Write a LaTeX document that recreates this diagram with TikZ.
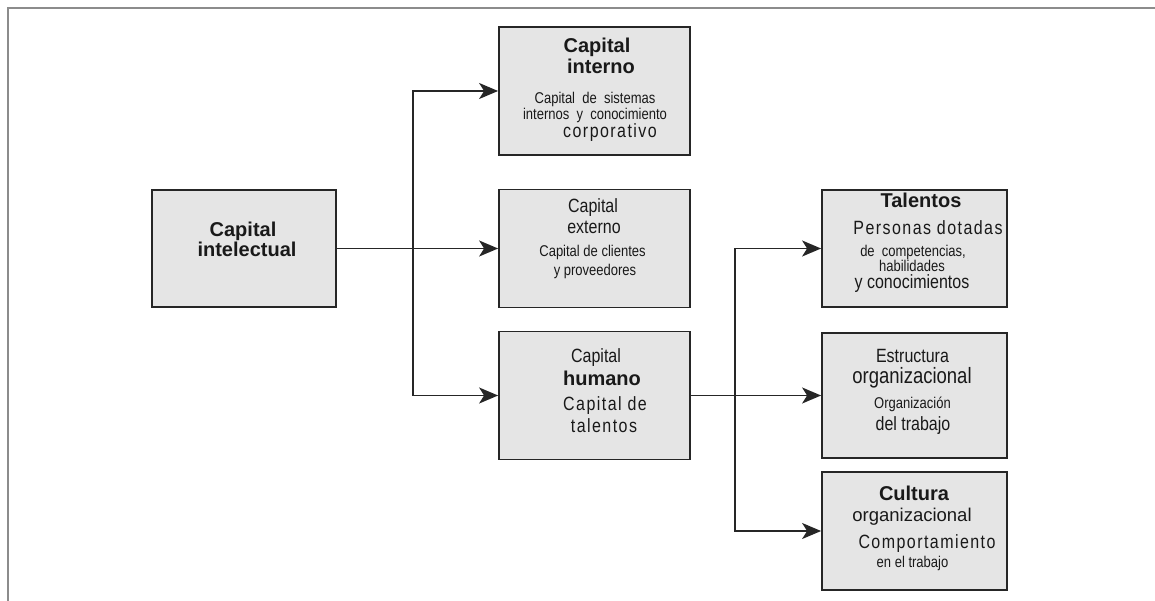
\documentclass[tikz,border=0pt]{standalone}
\usepackage{fontspec}
\usepackage{graphicx}
\setmainfont{Liberation Sans}
\usetikzlibrary{arrows.meta}
\newcommand{\ttl}{\fontsize{20}{20}\selectfont\bfseries}
\newcommand{\bigtxt}{\fontsize{18.5}{18.5}\selectfont}
\newcommand{\med}{\fontsize{16}{16}\selectfont}
\newcommand{\sml}{\fontsize{13}{13}\selectfont}
\newcommand{\wide}{\addfontfeature{LetterSpace=9}}
\newcommand{\tall}[1]{\scalebox{1}[1.2]{#1}}

\begin{document}
\begin{tikzpicture}[x=1pt,y=-1pt]
                \tikzstyle{box}=[draw=black!85, line width=1.8pt, fill=black!10, inner sep=0pt]
                \tikzstyle{lbl}=[anchor=base, inner sep=0pt, text=black!90]
                \tikzstyle{line}=[draw=black!85, line width=1.8pt]
                \tikzstyle{arr}=[line, -{Stealth[length=19pt, width=16pt, inset=5pt]}]
                \useasboundingbox (0,0) rectangle (1155,601);
                \draw [black!45, line width=2pt] (8,601) -- (8,8) -- (1155,8);
                % boxes
                \node [box, minimum width=184pt, minimum height=117pt] (intel) at (244,248.5) {};
                \node [box, minimum width=191pt, minimum height=128pt] (interno) at (594.5,91) {};
                \node [box, minimum width=191pt, minimum height=118pt] (externo) at (594.5,248.5) {};
                \node [box, minimum width=191pt, minimum height=128pt] (humano) at (594.5,395.5) {};
                \node [box, minimum width=185pt, minimum height=117pt] (talentos) at (914.5,248.5) {};
                \node [box, minimum width=185pt, minimum height=125pt] (estructura) at (914.5,395.5) {};
                \node [box, minimum width=185pt, minimum height=118pt] (cultura) at (914.5,531) {};
                % texts
                \node [lbl] (intel-a) at (243,237) {\ttl Capital};
                \node [lbl] (intel-b) at (247,257) {\ttl intelectual};
                \node [lbl] (interno-a) at (597,53) {\ttl Capital};
                \node [lbl] (interno-b) at (601,74) {\ttl interno};
                \node [lbl] (interno-c) at (595,104) {\tall{\sml Capital\ \ de\ \ sistemas}};
                \node [lbl] (interno-d) at (595,120) {\tall{\sml internos\ \ y\ \ conocimiento}};
                \node [lbl] (interno-e) at (610,138) {\tall{\med\wide corporativo}};
                \node [lbl] (externo-a) at (593,213) {\tall{\med Capital}};
                \node [lbl] (externo-b) at (594,234) {\tall{\med externo}};
                \node [lbl] (externo-c) at (592.5,257) {\tall{\sml Capital de clientes}};
                \node [lbl] (externo-d) at (595,276) {\tall{\sml y proveedores}};
                \node [lbl] (humano-a) at (596,362) {\tall{\med Capital}};
                \node [lbl] (humano-b) at (602,385) {\ttl humano};
                \node [lbl] (humano-c) at (605,410) {\tall{\med\wide Capital de}};
                \node [lbl] (humano-d) at (604,432) {\tall{\med\wide talentos}};
                \node [lbl] (talentos-a) at (921,208) {\ttl Talentos};
                \node [lbl] (talentos-b) at (928,235) {\tall{\med\wide Personas dotadas}};
                \node [lbl] (talentos-c) at (913,257) {\tall{\sml de\ \ competencias,}};
                \node [lbl] (talentos-d) at (912,272) {\tall{\sml habilidades}};
                \node [lbl] (talentos-e) at (912,289) {\tall{\med y conocimientos}};
                \node [lbl] (estructura-a) at (912.5,362) {\tall{\med Estructura}};
                \node [lbl] (estructura-b) at (912,383) {\tall{\bigtxt organizacional}};
                \node [lbl] (estructura-c) at (912.5,408) {\tall{\sml Organización}};
                \node [lbl] (estructura-d) at (913,430) {\tall{\med del trabajo}};
                \node [lbl] (cultura-a) at (914,500) {\ttl Cultura};
                \node [lbl] (cultura-b) at (912,521) {\bigtxt organizacional};
                \node [lbl] (cultura-c) at (927,548) {\tall{\med\wide Comportamiento}};
                \node [lbl] (cultura-d) at (912.5,567) {\tall{\sml en el trabajo}};
                % connectors
                \coordinate (fork1) at (413,248.5);
                \coordinate (fork2) at (735,395.5);
                \draw [line] (intel.east) -- (fork1);
                \draw [arr] (fork1) |- (interno.west);
                \draw [arr] (fork1) -- (externo.west);
                \draw [arr] (fork1) |- (humano.west);
                \draw [line] (humano.east) -- (fork2);
                \draw [arr] (fork2) |- (talentos.west);
                \draw [arr] (fork2) -- (estructura.west);
                \draw [arr] (fork2) |- (cultura.west);
            \end{tikzpicture}
\end{document}
